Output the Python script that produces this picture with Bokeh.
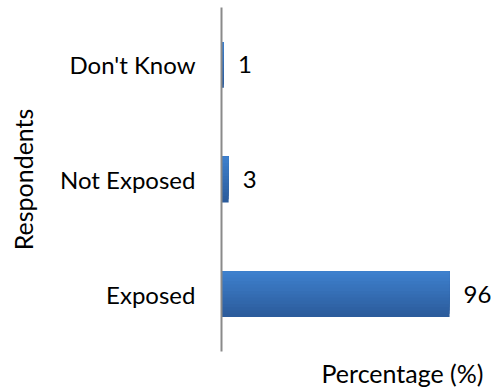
from bokeh.plotting import figure
from bokeh.models import FactorRange, Range1d, ColumnDataSource, LabelSet, Title
from bokeh.core.properties import value
from bokeh.transform import dodge
from bokeh.embed import file_html
from bokeh.resources import INLINE

categories = ["Exposed", "Not Exposed", "Don't Know"]
values = [96, 3, 1]
value_labels = ["96", "3", "1"]

FONT = "Lato"

src = ColumnDataSource(dict(cat=categories, value=values, label=value_labels))

p = figure(width=495, height=391, output_backend="svg", toolbar_location=None,
           y_range=FactorRange(factors=categories), x_range=Range1d(0, 114.5),
           min_border_left=221, min_border_right=2, min_border_top=7, min_border_bottom=38)
p.background_fill_color = "white"
p.outline_line_color = None
p.xgrid.visible = False
p.ygrid.visible = False
p.xaxis.visible = False

# bar with vertical gradient: overlapping bars anchored at the top edge
bar_h = 0.4
n = 14
top_c = (0x3e, 0x80, 0xcd)
bot_c = (0x2c, 0x5c, 0x9c)
for i in range(n):
    t = 1 - i / (n - 1)
    r = int(top_c[0] + (bot_c[0] - top_c[0]) * t)
    g = int(top_c[1] + (bot_c[1] - top_c[1]) * t)
    b = int(top_c[2] + (bot_c[2] - top_c[2]) * t)
    h = bar_h * (1 - i / n)
    off = bar_h / 2 - h / 2
    p.hbar(y=dodge("cat", off, range=p.y_range), left=0, right="value",
           height=h, source=src,
           fill_color=f"#{r:02x}{g:02x}{b:02x}", line_color=None)

labels = LabelSet(x="value", y="cat", text="label", source=src, x_offset=14,
                  text_baseline="middle", text_font=value(FONT), text_font_size="24px",
                  text_color="#000000")
p.add_layout(labels)

ya = p.yaxis[0]
ya.axis_line_color = "#8a8a8a"
ya.axis_line_width = 2
ya.major_tick_line_color = None
ya.minor_tick_line_color = None
ya.major_label_standoff = 20
ya.major_label_text_font = FONT
ya.major_label_text_font_size = "24px"
ya.major_label_text_color = "#000000"
ya.axis_label = "Respondents"
ya.axis_label_text_font = FONT
ya.axis_label_text_font_size = "25px"
ya.axis_label_text_font_style = "normal"
ya.axis_label_text_color = "#000000"
ya.axis_label_standoff = 19

xt = Title(text="Percentage (%)", align="right", text_font=FONT, text_font_size="25px",
           text_font_style="normal", text_color="#000000", offset=10, standoff=8)
p.add_layout(xt, "below")

open("out.html", "w").write(file_html(p, INLINE))
